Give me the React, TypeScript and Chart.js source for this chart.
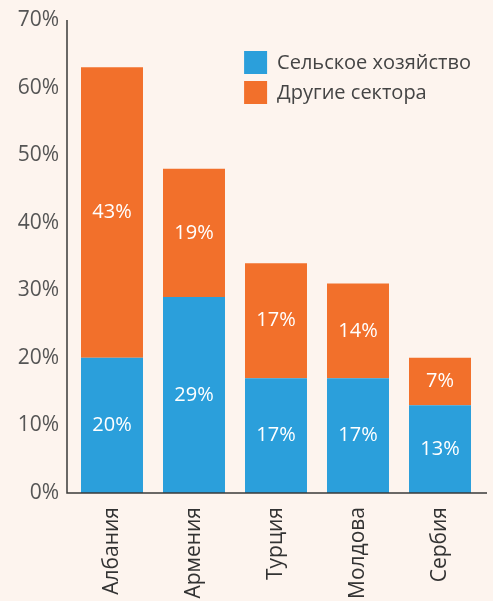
import React, { useEffect, useRef } from "react";
import { Chart, registerables } from "chart.js";

Chart.register(...registerables);

const categories = ["Албания", "Армения", "Турция", "Молдова", "Сербия"];
const agriculture = [20, 29, 17, 17, 13];
const otherSectors = [43, 19, 17, 14, 7];
const seriesNames = ["Сельское хозяйство", "Другие сектора"];
const yMax = 70;
const yStep = 10;

const BG = "#fdf4ee";
const BLUE = "#2b9fdb";
const ORANGE = "#f2702b";
const FONT = "'Open Sans', 'Noto Sans', sans-serif";

const axisLinesPlugin = {
  id: "axisLines",
  afterDatasetsDraw(chart: any) {
    const { ctx, chartArea } = chart;
    ctx.save();
    ctx.strokeStyle = "#3a3a3a";
    ctx.lineWidth = 1.5;
    ctx.beginPath();
    const x0 = chartArea.left - 4;
    ctx.moveTo(x0, chartArea.top);
    ctx.lineTo(x0, chartArea.bottom);
    ctx.lineTo(chartArea.right + 6, chartArea.bottom);
    ctx.stroke();
    ctx.restore();
  },
};

const valueLabelsPlugin = {
  id: "valueLabels",
  afterDatasetsDraw(chart: any) {
    const { ctx } = chart;
    ctx.save();
    ctx.fillStyle = "#ffffff";
    ctx.font = `20px ${FONT}`;
    ctx.textAlign = "center";
    ctx.textBaseline = "middle";
    chart.data.datasets.forEach((ds: any, di: number) => {
      const meta = chart.getDatasetMeta(di);
      meta.data.forEach((el: any, i: number) => {
        const p = el.getCenterPoint();
        ctx.fillText(`${ds.data[i]}%`, p.x, p.y);
      });
    });
    ctx.restore();
  },
};

const legendPlugin = {
  id: "customLegend",
  afterDraw(chart: any) {
    const { ctx, chartArea } = chart;
    ctx.save();
    ctx.font = `20px ${FONT}`;
    ctx.textBaseline = "middle";
    ctx.textAlign = "left";
    const box = 23;
    const gap = 10;
    const rowH = 30;
    const names = chart.data.datasets.map((d: any) => d.label);
    const maxW = Math.max(...names.map((n: string) => ctx.measureText(n).width));
    const x = chartArea.right - 10 - maxW - gap - box;
    const y0 = chartArea.top + 31;
    chart.data.datasets.forEach((ds: any, i: number) => {
      const y = y0 + i * rowH;
      ctx.fillStyle = ds.backgroundColor;
      ctx.fillRect(x, y, box, box);
      ctx.fillStyle = "#444444";
      ctx.fillText(ds.label, x + box + gap, y + box / 2 + 1);
    });
    ctx.restore();
  },
};

export default function App() {
  const canvasRef = useRef<HTMLCanvasElement | null>(null);

  useEffect(() => {
    document.body.style.margin = "0";
    document.body.style.background = BG;
    const canvas = canvasRef.current;
    if (!canvas) return;
    const chart = new Chart(canvas, {
      type: "bar",
      data: {
        labels: categories,
        datasets: [
          {
            label: seriesNames[0],
            data: agriculture,
            backgroundColor: BLUE,
            categoryPercentage: 1,
            barPercentage: 0.756,
          },
          {
            label: seriesNames[1],
            data: otherSectors,
            backgroundColor: ORANGE,
            categoryPercentage: 1,
            barPercentage: 0.756,
          },
        ],
      },
      options: {
        animation: false,
        responsive: true,
        maintainAspectRatio: false,
        layout: { padding: { top: 20, right: 12, left: 0, bottom: 0 } },
        plugins: {
          legend: { display: false },
          tooltip: { enabled: false },
        },
        scales: {
          x: {
            stacked: true,
            border: { display: false },
            grid: { display: false, drawTicks: false },
            ticks: {
              color: "#333333",
              font: { family: FONT, size: 21 },
              minRotation: 90,
              maxRotation: 90,
              padding: 14,
            },
            afterFit(scale: any) {
              scale.height = 108;
              scale.paddingLeft = 0;
              scale.paddingRight = 0;
            },
          },
          y: {
            stacked: true,
            min: 0,
            max: yMax,
            border: { display: false },
            grid: { display: false, drawTicks: false },
            ticks: {
              stepSize: yStep,
              color: "#555555",
              font: { family: FONT, size: 21 },
              padding: 12,
              callback: (v: any) => `${v}%`,
            },
            afterFit(scale: any) {
              scale.width = 71;
              scale.paddingTop = 0;
              scale.paddingBottom = 0;
            },
          },
        },
      },
      plugins: [axisLinesPlugin, valueLabelsPlugin, legendPlugin],
    });
    return () => chart.destroy();
  }, []);

  return (
    <div style={{ width: 493, height: 601, position: "relative", background: BG }}>
      <canvas ref={canvasRef} />
    </div>
  );
}
